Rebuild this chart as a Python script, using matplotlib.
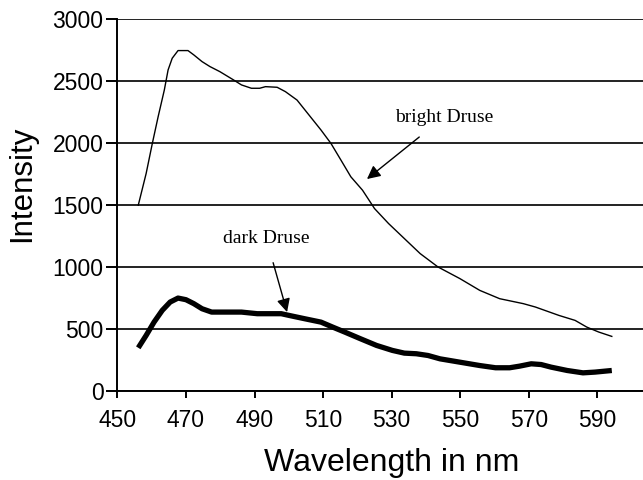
import matplotlib
matplotlib.use('Agg')
from matplotlib import pyplot as plt
import numpy as np

plt.rcParams['font.family'] = ['Liberation Sans', 'DejaVu Sans']

# 亮 drusen 光谱
bright_x = [456.1, 458.4, 460.2, 461.9, 463.7, 464.8, 466.0, 467.7, 470.6, 472.3,
            474.7, 477.0, 479.9, 483.9, 486.2, 489.1, 491.5, 493.2, 496.6, 499.0,
            502.4, 505.9, 509.4, 512.3, 515.2, 518.1, 521.5, 525.0, 529.1, 533.7,
            538.3, 543.5, 549.9, 555.7, 561.5, 568.4, 571.9, 578.8, 583.5, 586.9,
            590.4, 594.2]
bright_y = [1500, 1756, 1998, 2214, 2429, 2591, 2685, 2747, 2747, 2712,
            2658, 2618, 2577, 2510, 2470, 2443, 2443, 2456, 2451, 2416,
            2348, 2227, 2106, 1998, 1864, 1729, 1621, 1473, 1352, 1231,
            1110, 1002, 908, 813, 746, 706, 679, 611, 571, 517,
            477, 442]

# 暗 drusen 光谱
dark_x = [456.1, 458.4, 460.7, 463.1, 465.4, 467.7, 470.0, 472.3, 474.7, 477.5,
          481.6, 486.2, 490.8, 497.8, 500.1, 504.7, 509.4, 512.8, 516.3, 520.9,
          525.6, 530.2, 533.7, 537.2, 540.6, 544.1, 549.9, 555.7, 560.3, 564.4,
          567.3, 570.7, 573.6, 576.5, 581.2, 585.8, 589.3, 594.2]
dark_y = [350, 450, 557, 652, 719, 751, 738, 706, 665, 638,
          638, 638, 625, 625, 611, 584, 557, 517, 477, 423,
          369, 329, 307, 302, 288, 261, 234, 207, 189, 189,
          202, 221, 215, 194, 167, 148, 154, 167]

xticks = [450, 470, 490, 510, 530, 550, 570, 590]
yticks = [0, 500, 1000, 1500, 2000, 2500, 3000]

fig = plt.figure(figsize=(6.43, 4.80), dpi=100)
ax = fig.add_axes([0.1825, 0.185, 0.8175, 0.775])

ax.plot(bright_x, bright_y, color='black', lw=1.0)
ax.plot(dark_x, dark_y, color='black', lw=3.8, solid_capstyle='butt')

ax.set_xlim(450, 603.3)
ax.set_ylim(0, 3000)
ax.set_xticks(xticks)
ax.set_yticks(yticks)
ax.yaxis.grid(True, color='#222222', lw=1.4)
ax.set_axisbelow(True)
for s in ['top', 'right']:
    ax.spines[s].set_visible(False)
for s in ['left', 'bottom']:
    ax.spines[s].set_linewidth(1.4)
ax.tick_params(axis='y', direction='out', length=8, width=1.4, labelsize=16.5, pad=2)
ax.tick_params(axis='x', direction='out', length=5, width=1.4, labelsize=16.5, pad=8)

# 坐标轴标题用 fig.text 定位
fig.text(392/643, 1-463/480, 'Wavelength in nm', fontsize=23, ha='center', va='center')
fig.text(22/643, 1-184/480, 'Intensity', fontsize=22.5, rotation=90, ha='center', va='center')

ax.annotate('bright Druse', xy=(522.8, 1711), xytext=(545.3, 2211),
            ha='center', va='center', fontsize=14, family='Liberation Serif',
            arrowprops=dict(arrowstyle='-|>', color='black', lw=1.0,
                            mutation_scale=20, shrinkA=10, shrinkB=0))
ax.annotate('dark Druse', xy=(499.5, 638), xytext=(493.4, 1235),
            ha='center', va='center', fontsize=14, family='Liberation Serif',
            arrowprops=dict(arrowstyle='-|>', color='black', lw=1.0,
                            mutation_scale=20, shrinkA=10, shrinkB=0))

plt.savefig('out.png', dpi=100)
